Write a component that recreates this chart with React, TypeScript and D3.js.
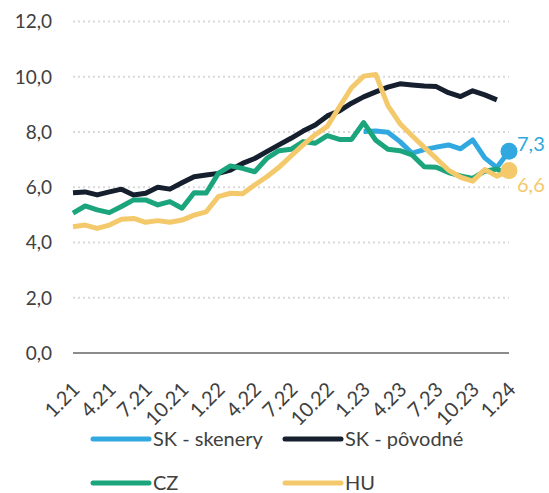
import React from "react";
import * as d3 from "d3";

const months: string[] = [];
for (let y = 21; y <= 24; y++) {
  for (let m = 1; m <= 12; m++) {
    if (y === 24 && m > 1) break;
    months.push(`${m}.${y}`);
  }
}
const tickLabels = ["1.21","4.21","7.21","10.21","1.22","4.22","7.22","10.22","1.23","4.23","7.23","10.23","1.24"];
const yTicks = [0, 2, 4, 6, 8, 10, 12];

const skSkenery: (number | null)[] = [
  null,null,null,null,null,null,null,null,null,null,null,null,
  null,null,null,null,null,null,null,null,null,null,null,null,
  8.02,8.03,7.99,7.65,7.23,7.36,7.45,7.53,7.39,7.71,7.06,6.71,7.3,
];
const skPovodne: (number | null)[] = [
  5.80,5.83,5.72,5.83,5.93,5.72,5.78,6.0,5.93,6.16,6.38,6.44,
  6.5,6.62,6.86,7.04,7.29,7.53,7.77,8.03,8.25,8.58,8.76,9.04,
  9.27,9.45,9.62,9.74,9.7,9.66,9.64,9.42,9.28,9.49,9.34,9.16,null,
];
const cz: (number | null)[] = [
  5.06,5.32,5.18,5.08,5.3,5.54,5.54,5.36,5.48,5.24,5.8,5.79,
  6.5,6.77,6.68,6.56,7.04,7.32,7.37,7.65,7.59,7.87,7.73,7.73,
  8.34,7.7,7.37,7.32,7.17,6.74,6.72,6.53,6.41,6.32,6.58,6.66,6.42,
];
const hu: (number | null)[] = [
  4.57,4.63,4.51,4.63,4.84,4.87,4.73,4.79,4.73,4.81,4.99,5.11,
  5.66,5.78,5.76,6.08,6.38,6.72,7.13,7.53,7.9,8.2,8.91,9.6,
  10.02,10.08,8.95,8.3,7.86,7.44,7.04,6.62,6.36,6.22,6.64,6.4,6.6,
];

const seriesNames = ["SK - skenery", "SK - pôvodné", "CZ", "HU"];
const seriesColors = ["#31A9E0", "#151F2E", "#1BA57C", "#F3C96B"];
const seriesData = [skSkenery, skPovodne, cz, hu];
const endLabels = ["7,3", null, null, "6,6"];

const FONT = "Lato, 'Open Sans', sans-serif";
const TEXT = "#404040";

export default function App() {
  const W = 549, H = 493;
  const x = d3.scalePoint<string>().domain(months).range([73, 509]);
  const y = d3.scaleLinear().domain([0, 12]).range([353, 21.4]);
  const line = d3
    .line<number | null>()
    .defined((d) => d !== null)
    .x((_, i) => x(months[i]) as number)
    .y((d) => y(d as number));

  const fmt = (v: number) => v.toFixed(1).replace(".", ",");

  return (
    <svg width={W} height={H} style={{ position: "absolute", left: 0, top: 0, background: "#fff" }}
      fontFamily={FONT}>
      {yTicks.map((t) => (
        <g key={t}>
          {t > 0 && (
            <line x1={73} x2={509} y1={y(t)} y2={y(t)} stroke="#D9D9D9" strokeWidth={2}
              strokeDasharray="2,3" />
          )}
          <text x={52} y={y(t)} dy="0.36em" textAnchor="end" fontSize={19} fill={TEXT}>
            {fmt(t)}
          </text>
        </g>
      ))}
      <line x1={73} x2={509} y1={y(0)} y2={y(0)} stroke="#8C8C8C" strokeWidth={2} />
      {tickLabels.map((l) => {
        const px = x(l) as number;
        return (
          <text key={l} transform={`translate(${px - 2},${381}) rotate(-45)`} textAnchor="end"
            dy="0.7em" fontSize={20} fill={TEXT}>
            {l}
          </text>
        );
      })}
      {seriesData.map((s, k) => (
        <path key={k} d={line(s) || ""} fill="none" stroke={seriesColors[k]} strokeWidth={5}
          strokeLinejoin="round" />
      ))}
      {seriesData.map((s, k) => {
        if (!endLabels[k]) return null;
        const i = s.length - 1;
        const v = s[i] as number;
        const px = x(months[i]) as number;
        const dy = k === 0 ? -7 : 14;
        return (
          <g key={k}>
            <circle cx={px} cy={y(v)} r={8.5} fill={seriesColors[k]} />
            <text x={px + 8} y={y(v) + dy} dy="0.36em" fontSize={20} fill={seriesColors[k]}>
              {endLabels[k]}
            </text>
          </g>
        );
      })}
      {seriesNames.map((n, k) => {
        const col = k % 2, row = Math.floor(k / 2);
        const lx = col === 0 ? 93 : 285;
        const ly = row === 0 ? 439 : 483;
        return (
          <g key={n}>
            <line x1={lx} x2={lx + 56} y1={ly} y2={ly} stroke={seriesColors[k]} strokeWidth={5}
              strokeLinecap="round" />
            <text x={lx + 60} y={ly} dy="0.36em" fontSize={20} fill={TEXT}>
              {n}
            </text>
          </g>
        );
      })}
    </svg>
  );
}
